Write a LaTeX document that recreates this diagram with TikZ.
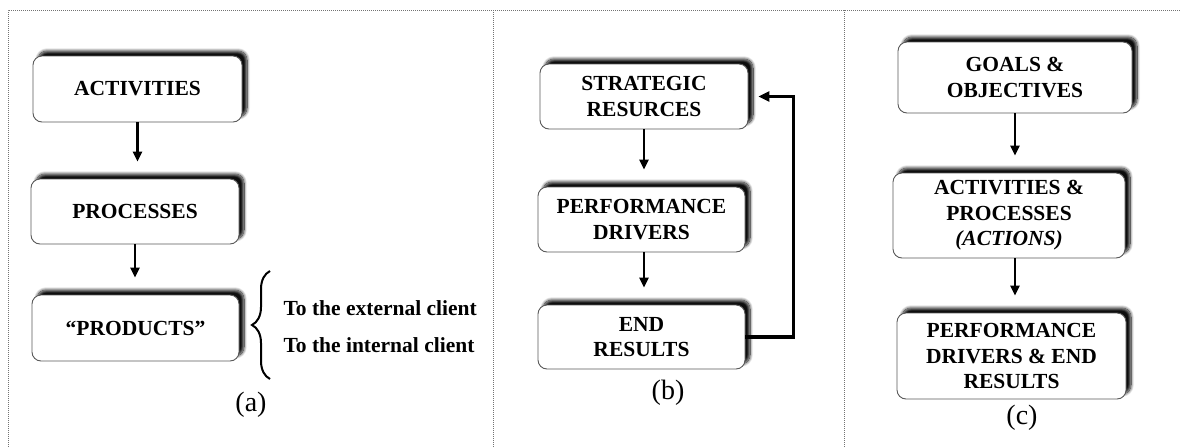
\documentclass[tikz,border=0pt]{standalone}
\usepackage{fontspec}
\setmainfont{Liberation Serif}
\usetikzlibrary{arrows.meta,shadows.blur,decorations.pathreplacing,calc}

\begin{document}
\begin{tikzpicture}[x=1pt,y=-1pt,
  box/.style={draw=black!65, line width=0.9pt, rounded corners=9pt, fill=white,
    align=center, inner sep=0pt, text=black,
    font=\fontsize{21.5}{25.5}\selectfont\bfseries,
    blur shadow={shadow xshift=5pt, shadow yshift=5pt, shadow opacity=95,
      shadow blur radius=3pt, shadow blur steps=12}},
  flow/.style={line width=2.3pt, -{Triangle[length=10pt,width=9pt]}, shorten >=17pt},
  feedback/.style={line width=3.2pt, -{Triangle[length=11pt,width=10pt]}, shorten >=10pt},
  frame/.style={black!55, line width=0.8pt, dash pattern=on 1pt off 1pt},
  bracetext/.style={anchor=base west, text=black, font=\fontsize{21.5}{25.5}\selectfont\bfseries},
  sublabel/.style={font=\fontsize{28}{32}\selectfont}
]
\useasboundingbox (0,0) rectangle (1181,447);

% dotted panel frame
\draw[frame] (8,447) -- (8,10) -- (1181,10);
\draw[frame] (493,10) -- (493,447);
\draw[frame] (844,10) -- (844,447);

% (a) activities -> processes -> products
\node[box, minimum width=209pt, minimum height=66pt] (act) at (137.5,89) {ACTIVITIES};
\node[box, minimum width=208pt, minimum height=65pt] (proc) at (135,211.5) {PROCESSES};
\node[box, minimum width=207pt, minimum height=66pt] (prod) at (135.5,328) {“PRODUCTS”};
\draw[flow] (act.south) -- (act.south |- proc.north);
\draw[flow] (proc.south) -- (proc.south |- prod.north);

\coordinate (bb) at (270,379);
\coordinate (bt) at (270,271);
\draw[line width=2pt, decorate, decoration={brace, amplitude=18pt}] (bb) -- (bt);
\node[bracetext] (ext) at (280,315) {To the external client};
\node[bracetext] (int) at (280,352) {To the internal client};
\node[sublabel] (la) at (251,405) {(a)};

% (b) strategic resources loop
\node[box, minimum width=208pt, minimum height=65pt] (strat) at (644,96.5) {STRATEGIC\\RESURCES};
\node[box, minimum width=207pt, minimum height=65pt] (drv) at (641.5,219.5) {PERFORMANCE\\DRIVERS};
\node[box, minimum width=207pt, minimum height=64pt] (endr) at (641.5,337) {END\\RESULTS};
\draw[flow] (strat.south) -- (strat.south |- drv.north);
\draw[flow] (strat.south |- drv.south) -- (strat.south |- endr.north);
\draw[feedback] (endr.east) -- ++(48,0) |- (strat.east);
\node[sublabel] (lb) at (668,393) {(b)};

% (c) goals -> actions -> results
\node[box, minimum width=234pt, minimum height=71pt] (goals) at (1015,77.5) {GOALS \&\\OBJECTIVES};
\node[box, minimum width=232pt, minimum height=85pt] (actp) at (1009,215.5) {ACTIVITIES \&\\PROCESSES\\\textit{(ACTIONS)}};
\node[box, minimum width=229pt, minimum height=86pt] (perf) at (1011.5,356) {PERFORMANCE\\DRIVERS \& END\\RESULTS};
\draw[flow] (goals.south) -- (goals.south |- actp.north);
\draw[flow] (goals.south |- actp.south) -- (goals.south |- perf.north);
\node[sublabel] (lc) at (1022,417.5) {(c)};
\end{tikzpicture}
\end{document}
